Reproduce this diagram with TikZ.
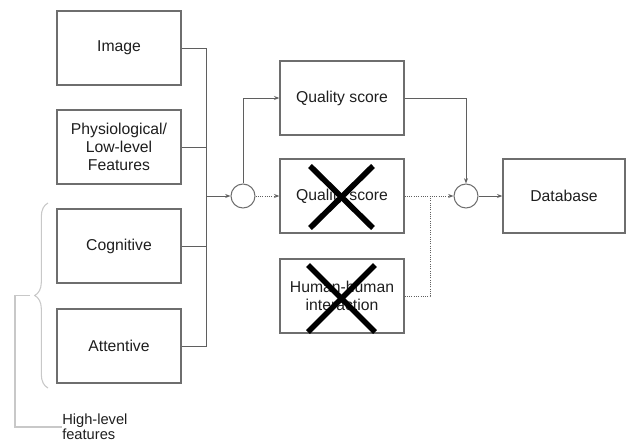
\documentclass[tikz,border=0pt]{standalone}
\usepackage{fontspec}
\setmainfont{Liberation Sans}
\usetikzlibrary{positioning,arrows.meta,decorations.pathreplacing}
\definecolor{boxgray}{RGB}{110,110,110}
\definecolor{linegray}{RGB}{95,95,95}
\definecolor{bracegray}{RGB}{200,200,200}
\definecolor{textgray}{RGB}{30,30,30}

\begin{document}
\begin{tikzpicture}[x=0.75pt,y=-0.75pt,
  box/.style={draw=boxgray, line width=1pt, minimum width=93pt, minimum height=55.5pt,
    align=center, text=textgray, font=\fontsize{11.8}{13.5}\selectfont, inner sep=2pt},
  junc/.style={draw=boxgray, line width=0.8pt, circle, minimum size=18pt, inner sep=0pt},
  conn/.style={draw=linegray, line width=0.7pt},
  arr/.style={conn, -{Stealth[length=4pt,width=3pt]}},
  dotarr/.style={arr, densely dotted},
  xmark/.style={line width=4.2pt, black},
  bracket/.style={draw=bracegray, line width=0.8pt}]
\useasboundingbox (0,0) rectangle (626,443);
\node[box] (img) at (119,48) {Image};
\node[box] (phys) at (119,147) {Physiological/\\Low-level\\Features};
\node[box] (cog) at (119,246) {Cognitive};
\node[box] (att) at (119,346) {Attentive};
\node[junc] (j1) at (243,196) {};
\node[box] (qs) at (342,98) {Quality score};
\node[box] (qsx) at (342,196) {Quality score};
\node[box] (hh) at (342,296) {Human-human\\interaction};
\node[junc] (j2) at (466,196) {};
\node[box, minimum width=91.5pt] (db) at (564,196) {Database};
\node[anchor=west, align=left, inner sep=0pt, text=textgray,
  font=\fontsize{11}{11.5}\selectfont] (hl) at (62,427) {High-level\\features};
\coordinate (bus) at (206,196);
\coordinate (merge) at (430,196);
% feature bus
\draw[conn] (img.east) -| (bus |- att.east) -- (att.east);
\draw[conn] (phys.east) -- (phys.east -| bus);
\draw[conn] (cog.east) -- (cog.east -| bus);
\draw[arr] (bus) -- (j1.west);
\draw[arr] (j1.north) |- (qs.west);
\draw[dotarr] (j1.east) -- (qsx.west);
\draw[dotarr] (qsx.east) -- (j2.west);
\draw[conn, densely dotted] (hh.east) -| (merge);
\draw[arr] (qs.east) -| (j2.north);
\draw[arr] (j2.east) -- (db.west);
% crossed out
\draw[xmark] ([shift={(-32,-30)}]qsx.center) -- ([shift={(31,32)}]qsx.center);
\draw[xmark] ([shift={(-32,32)}]qsx.center) -- ([shift={(31,-30)}]qsx.center);
\draw[xmark] ([shift={(-34,-31)}]hh.center) -- ([shift={(33,36)}]hh.center);
\draw[xmark] ([shift={(-34,36)}]hh.center) -- ([shift={(33,-31)}]hh.center);
% brace for high-level features
\draw[bracket, decorate, decoration={brace, amplitude=10pt}] (48,388) -- (48,203)
  coordinate[pos=0.5, xshift=-13.5] (tip);
\draw[bracket] (tip) -- ++(-15,0) |- (hl.west);
\end{tikzpicture}
\end{document}
